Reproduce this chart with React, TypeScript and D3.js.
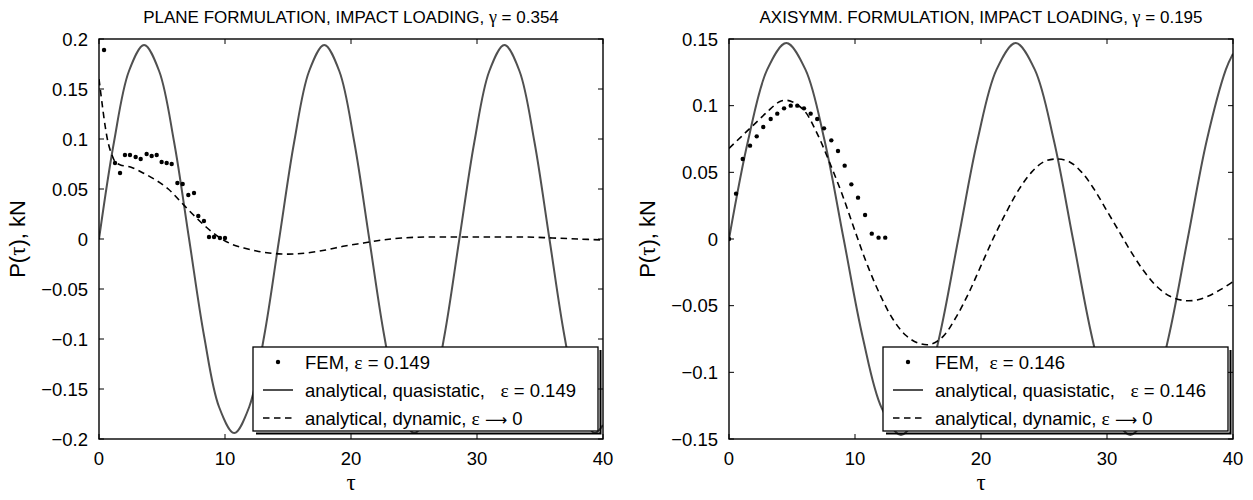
import React from 'react';
import * as d3 from 'd3';

// ---------- data ----------
const xTicks = [0, 10, 20, 30, 40];
const leftYTicks = [0.2, 0.15, 0.1, 0.05, 0, -0.05, -0.1, -0.15, -0.2];
const rightYTicks = [0.15, 0.1, 0.05, 0, -0.05, -0.1, -0.15];

const leftTitle = 'PLANE FORMULATION, IMPACT LOADING, ';
const leftGamma = '0.354';
const rightTitle = 'AXISYMM. FORMULATION, IMPACT LOADING, ';
const rightGamma = '0.195';

const leftQuasiTau = [0, 1.19, 2.38, 3.58, 4.77, 5.96, 7.15, 8.34, 9.53, 10.73, 11.92, 13.11, 14.3, 15.49, 16.68, 17.88, 19.07, 20.26, 21.45, 22.64, 23.83, 25.03, 26.22, 27.41, 28.6, 29.79, 30.98, 32.18, 33.37, 34.56, 35.75, 36.94, 38.13, 39.33, 40];
const leftQuasiP = [0, 0.097, 0.168, 0.194, 0.168, 0.097, 0, -0.097, -0.168, -0.194, -0.168, -0.097, 0, 0.097, 0.168, 0.194, 0.168, 0.097, 0, -0.097, -0.168, -0.194, -0.168, -0.097, 0, 0.097, 0.168, 0.194, 0.168, 0.097, 0, -0.097, -0.168, -0.194, -0.186];

const leftDynTau = [0, 0.25, 0.5, 0.75, 1, 1.3, 1.7, 2.5, 3.5, 4.5, 5.5, 6.5, 7.5, 8.5, 9.5, 10.5, 11.5, 12.5, 13.5, 14.5, 15.5, 16.5, 18, 19.5, 21, 22.5, 24, 26, 28, 30, 32, 34, 36, 38, 40];
const leftDynP = [0.16, 0.135, 0.112, 0.095, 0.085, 0.077, 0.074, 0.072, 0.066, 0.059, 0.05, 0.037, 0.024, 0.012, 0.002, -0.005, -0.009, -0.012, -0.014, -0.015, -0.015, -0.014, -0.011, -0.007, -0.004, -0.001, 0.001, 0.002, 0.002, 0.002, 0.002, 0.002, 0.001, 0, -0.001];

const leftFemTau = [0.4, 1.27, 1.67, 2.06, 2.46, 2.91, 3.31, 3.78, 4.18, 4.58, 4.97, 5.37, 5.77, 6.22, 6.64, 7.09, 7.54, 7.88, 8.33, 8.73, 9.13, 9.6, 10.0];
const leftFemP = [0.189, 0.076, 0.066, 0.084, 0.084, 0.082, 0.08, 0.085, 0.083, 0.084, 0.077, 0.076, 0.075, 0.056, 0.055, 0.044, 0.046, 0.023, 0.018, 0.002, 0.002, 0.001, 0.001];

const rightQuasiTau = [0, 1.52, 3.03, 4.55, 6.07, 7.58, 9.1, 10.62, 12.13, 13.65, 15.17, 16.68, 18.2, 19.72, 21.23, 22.75, 24.27, 25.78, 27.3, 28.82, 30.33, 31.85, 33.37, 34.88, 36.4, 37.92, 39.43, 40];
const rightQuasiP = [0, 0.074, 0.127, 0.147, 0.127, 0.074, 0, -0.074, -0.127, -0.147, -0.127, -0.074, 0, 0.074, 0.127, 0.147, 0.127, 0.074, 0, -0.074, -0.127, -0.147, -0.127, -0.074, 0, 0.074, 0.127, 0.139];

const rightDynTau = [0, 1, 2, 3, 4, 4.5, 5, 6, 7, 8, 9, 10, 11, 12, 13, 14, 15, 16, 17, 18, 19, 20, 21, 22, 23, 24, 25, 26, 27, 28, 29, 30, 31, 32, 33, 34, 35, 36, 37, 38, 39, 40];
const rightDynP = [0.068, 0.077, 0.086, 0.095, 0.103, 0.104, 0.103, 0.096, 0.079, 0.057, 0.033, 0.006, -0.02, -0.042, -0.06, -0.072, -0.078, -0.079, -0.073, -0.059, -0.041, -0.02, 0.001, 0.02, 0.037, 0.05, 0.058, 0.06, 0.058, 0.05, 0.037, 0.021, 0.005, -0.011, -0.025, -0.036, -0.043, -0.046, -0.046, -0.043, -0.038, -0.032];

const rightFemTau = [0, 0.56, 1.09, 1.67, 2.2, 2.72, 3.31, 3.83, 4.37, 4.9, 5.42, 5.95, 6.48, 7.0, 7.54, 8.12, 8.65, 9.18, 9.71, 10.24, 10.8, 11.33, 11.87, 12.4];
const rightFemP = [0, 0.034, 0.06, 0.07, 0.077, 0.084, 0.09, 0.094, 0.098, 0.1, 0.1, 0.098, 0.094, 0.09, 0.083, 0.074, 0.066, 0.055, 0.041, 0.031, 0.018, 0.004, 0.001, 0.001];

const leftEps = '0.149';
const rightEps = '0.146';

// ---------- drawing ----------
const SANS = '"Liberation Sans", Arial, Helvetica, sans-serif';
const SERIF = '"Liberation Serif", "Times New Roman", serif';
const ARROW = '"DejaVu Sans", sans-serif';
const FS = 18.5;
const TFS = 17;

type Pts = [number, number][];
const zip = (a: number[], b: number[]): Pts => a.map((v, i) => [v, b[i]]);

function fmt(d: number) {
  if (d === 0) return '0';
  return (d < 0 ? '\u2212' : '') + String(Math.abs(d));
}

function Panel(props: {
  id: string; x0: number; x1: number; y0: number; y1: number;
  yDomain: [number, number]; yTicks: number[];
  title: string; gamma: string; eps: string; femGap: string;
  quasi: Pts; dyn: Pts; fem: Pts;
  legX0: number; legX1: number;
}) {
  const { id, x0, x1, y0, y1 } = props;
  const x = d3.scaleLinear().domain([0, 40]).range([x0, x1]);
  const y = d3.scaleLinear().domain(props.yDomain).range([y1, y0]);
  const line = d3.line<[number, number]>().x(d => x(d[0])).y(d => y(d[1])).curve(d3.curveCatmullRom.alpha(0.5));
  const tl = 5;
  const cx = (x0 + x1) / 2;
  const legTop = 347, legBot = 431;
  const rows = [363, 391, 419];
  const lx0 = props.legX0, lx1 = props.legX1;
  return (
    <g>
      <defs>
        <clipPath id={id}>
          <rect x={x0} y={y0} width={x1 - x0} height={y1 - y0} />
        </clipPath>
      </defs>
      <g clipPath={`url(#${id})`}>
        <path d={line(props.quasi) || ''} fill="none" stroke="#505050" strokeWidth={2} />
        <path d={line(props.dyn) || ''} fill="none" stroke="#000" strokeWidth={1.6} strokeDasharray="6.5,4.5" />
        {props.fem.map((d, i) => (
          <circle key={i} cx={x(d[0])} cy={y(d[1])} r={2.2} fill="#000" />
        ))}
      </g>
      {/* ticks */}
      {xTicks.map(t => (
        <g key={'x' + t}>
          <line x1={x(t)} x2={x(t)} y1={y1} y2={y1 - tl} stroke="#000" strokeWidth={1} />
          <line x1={x(t)} x2={x(t)} y1={y0} y2={y0 + tl} stroke="#000" strokeWidth={1} />
          <text x={x(t)} y={y1 + 26} textAnchor="middle" fontFamily={SANS} fontSize={FS}>{t}</text>
        </g>
      ))}
      {props.yTicks.map(t => (
        <g key={'y' + t}>
          <line x1={x0} x2={x0 + tl} y1={y(t)} y2={y(t)} stroke="#000" strokeWidth={1} />
          <line x1={x1} x2={x1 - tl} y1={y(t)} y2={y(t)} stroke="#000" strokeWidth={1} />
          <text x={x0 - 11} y={y(t) + 6.5} textAnchor="end" fontFamily={SANS} fontSize={FS}>{fmt(t)}</text>
        </g>
      ))}
      <rect x={x0} y={y0} width={x1 - x0} height={y1 - y0} fill="none" stroke="#000" strokeWidth={1.4} />
      {/* title */}
      <text x={cx} y={23} textAnchor="middle" fontFamily={SANS} fontSize={TFS} style={{ whiteSpace: 'pre' }}>
        {props.title}
        <tspan fontFamily={SERIF} fontSize={TFS + 1}>γ</tspan>
        {' = ' + props.gamma}
      </text>
      {/* axis labels */}
      <text x={cx} y={490} textAnchor="middle" fontFamily={SERIF} fontSize={23}>τ</text>
      <text transform={`translate(${x0 - 74},${(y0 + y1) / 2}) rotate(-90)`} textAnchor="middle" fontFamily={SANS} fontSize={22}>
        P(<tspan fontFamily={SERIF} fontSize={23}>τ</tspan>), kN
      </text>
      {/* legend */}
      <path d={`M${lx1 + 2.5},${legTop + 3} V${legBot + 2.5} H${lx0 + 3}`} fill="none" stroke="#000" strokeWidth={2} />
      <rect x={lx0} y={legTop} width={lx1 - lx0} height={legBot - legTop} fill="#fff" stroke="#000" strokeWidth={1.3} />
      <circle cx={lx0 + 25} cy={rows[0] - 1} r={2.2} fill="#000" />
      <line x1={lx0 + 10} x2={lx0 + 40} y1={rows[1] - 1} y2={rows[1] - 1} stroke="#505050" strokeWidth={2} />
      <line x1={lx0 + 10} x2={lx0 + 40} y1={rows[2] - 1} y2={rows[2] - 1} stroke="#000" strokeWidth={1.6} strokeDasharray="6.5,4.5" />
      <text x={lx0 + 52} y={rows[0] + 6} fontFamily={SANS} fontSize={FS} style={{ whiteSpace: 'pre' }}>
        {'FEM,' + props.femGap}<tspan fontFamily={SERIF} fontSize={FS + 1}>ε</tspan>{' = ' + props.eps}
      </text>
      <text x={lx0 + 52} y={rows[1] + 6} fontFamily={SANS} fontSize={FS} style={{ whiteSpace: 'pre' }}>
        {'analytical, quasistatic,   '}<tspan fontFamily={SERIF} fontSize={FS + 1}>ε</tspan>{' = ' + props.eps}
      </text>
      <text x={lx0 + 52} y={rows[2] + 6} fontFamily={SANS} fontSize={FS} style={{ whiteSpace: 'pre' }}>
        {'analytical, dynamic, '}<tspan fontFamily={SERIF} fontSize={FS + 1}>ε</tspan>{' '}<tspan fontFamily={ARROW} fontSize={15.5}>⟶</tspan>{' 0'}
      </text>
    </g>
  );
}

export default function App() {
  return (
    <svg width={1253} height={500} style={{ position: 'absolute', left: 0, top: 0, background: '#fff' }}>
      <rect x={0} y={0} width={1253} height={500} fill="#fff" />
      <Panel id="clipL" x0={99} x1={603} y0={39} y1={439} yDomain={[-0.2, 0.2]} yTicks={leftYTicks}
        title={leftTitle} gamma={leftGamma} eps={leftEps} femGap=" "
        quasi={zip(leftQuasiTau, leftQuasiP)} dyn={zip(leftDynTau, leftDynP)} fem={zip(leftFemTau, leftFemP)}
        legX0={253} legX1={598} />
      <Panel id="clipR" x0={729} x1={1233} y0={39} y1={439} yDomain={[-0.15, 0.15]} yTicks={rightYTicks}
        title={rightTitle} gamma={rightGamma} eps={rightEps} femGap="  "
        quasi={zip(rightQuasiTau, rightQuasiP)} dyn={zip(rightDynTau, rightDynP)} fem={zip(rightFemTau, rightFemP)}
        legX0={883} legX1={1228} />
    </svg>
  );
}
